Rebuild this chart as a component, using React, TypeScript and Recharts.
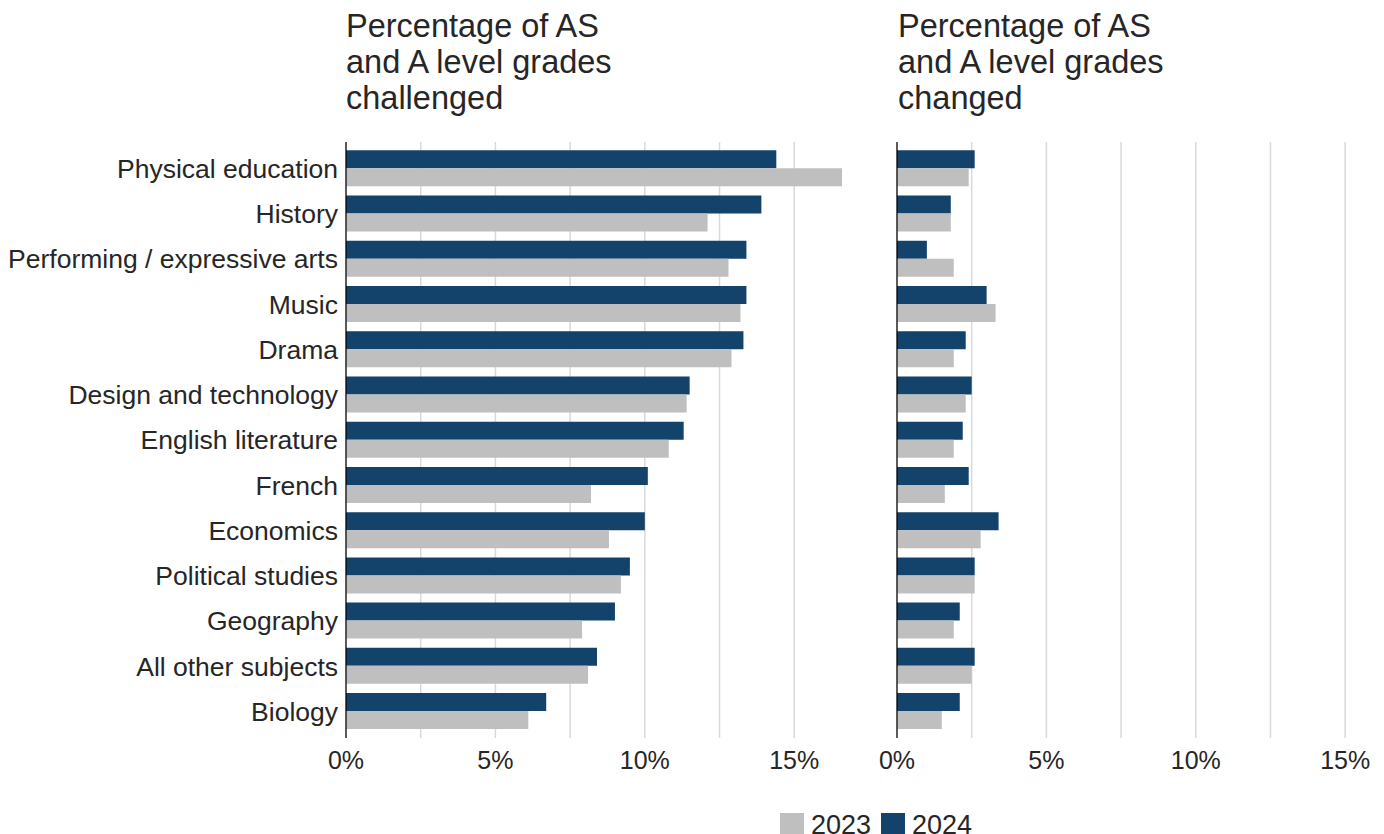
import { BarChart, Bar, XAxis, YAxis, CartesianGrid } from 'recharts'

const BLUE = '#13426b'
const GRAY = '#bfbfbf'
const TEXT = '#262626'
const FONT = '"Liberation Sans", Arial, sans-serif'

const subjects = [
  'Physical education',
  'History',
  'Performing / expressive arts',
  'Music',
  'Drama',
  'Design and technology',
  'English literature',
  'French',
  'Economics',
  'Political studies',
  'Geography',
  'All other subjects',
  'Biology',
]

// % of AS and A level grades challenged
const challenged2024 = [14.4, 13.9, 13.4, 13.4, 13.3, 11.5, 11.3, 10.1, 10.0, 9.5, 9.0, 8.4, 6.7]
const challenged2023 = [16.6, 12.1, 12.8, 13.2, 12.9, 11.4, 10.8, 8.2, 8.8, 9.2, 7.9, 8.1, 6.1]

// % of AS and A level grades changed
const changed2024 = [2.6, 1.8, 1.0, 3.0, 2.3, 2.5, 2.2, 2.4, 3.4, 2.6, 2.1, 2.6, 2.1]
const changed2023 = [2.4, 1.8, 1.9, 3.3, 1.9, 2.3, 1.9, 1.6, 2.8, 2.6, 1.9, 2.5, 1.5]

const xTicks = [0, 2.5, 5, 7.5, 10, 12.5, 15]
const years = ['2023', '2024']

const leftRows = subjects.map((s, i) => ({ subject: s, y2024: challenged2024[i], y2023: challenged2023[i] }))
const rightRows = subjects.map((s, i) => ({ subject: s, y2024: changed2024[i], y2023: changed2023[i] }))

const fmt = (v: number) => (v % 5 === 0 ? `${v}%` : '')

// grid only at the listed ticks (no line at the plot's right edge)
const gridAtTicks = (props: any) => {
  const s = props?.xAxis?.scale
  if (!s) return []
  return xTicks.map((t) => (typeof s === 'function' ? s(t) : s.map(t)))
}

function Panel({ rows, width, yWidth, max, labels }: { rows: any[]; width: number; yWidth: number; max: number; labels: boolean }) {
  return (
    <BarChart
      width={width}
      height={800}
      data={rows}
      layout="vertical"
      margin={{ top: 142, right: labels ? 6 : 0, bottom: 0, left: 0 }}
      barCategoryGap={4.3}
      barGap={0}
    >
      <CartesianGrid horizontal={false} stroke="#d9d9d9" strokeWidth={1.5} verticalCoordinatesGenerator={gridAtTicks} />
      <XAxis
        type="number"
        domain={[0, max]}
        ticks={xTicks}
        tickFormatter={fmt}
        allowDataOverflow
        axisLine={false}
        tickLine={false}
        tickSize={6}
        tickMargin={7}
        height={62}
        tick={{ fontSize: 25, fill: TEXT }}
        interval={0}
      />
      <YAxis
        type="category"
        dataKey="subject"
        width={yWidth}
        axisLine={{ stroke: '#000', strokeWidth: 1.2 }}
        tickLine={false}
        tickSize={6}
        tickMargin={2}
        padding={{ top: 4, bottom: 4 }}
        tick={labels ? { fontSize: 26.5, fill: TEXT } : false}
        interval={0}
      />
      <Bar dataKey="y2024" fill={BLUE} isAnimationActive={false} />
      <Bar dataKey="y2023" fill={GRAY} isAnimationActive={false} />
    </BarChart>
  )
}

export default function App() {
  return (
    <div style={{ position: 'absolute', left: 0, top: 0, width: 1384, height: 834, overflow: 'hidden', background: '#fff', fontFamily: FONT }}>
      <div style={{ position: 'absolute', left: 0, top: 0 }}>
        <Panel rows={leftRows} width={860} yWidth={346} max={17} labels />
      </div>
      <div style={{ position: 'absolute', left: 857, top: 0 }}>
        <Panel rows={rightRows} width={527} yWidth={40} max={16.3} labels={false} />
      </div>
      <svg width={1384} height={834} style={{ position: 'absolute', left: 0, top: 0, pointerEvents: 'none' }}>
        <g fontSize={32.5} fill={TEXT} fontFamily={FONT}>
          <text x={346} y={37}>Percentage of AS</text>
          <text x={346} y={73}>and A level grades</text>
          <text x={346} y={109}>challenged</text>
          <text x={898} y={37}>Percentage of AS</text>
          <text x={898} y={73}>and A level grades</text>
          <text x={898} y={109}>changed</text>
        </g>
        <g fontSize={27} fill={TEXT} fontFamily={FONT}>
          <rect x={780} y={813} width={24} height={24} fill={GRAY} />
          <text x={811} y={834}>{years[0]}</text>
          <rect x={881} y={813} width={24} height={24} fill={BLUE} />
          <text x={912} y={834}>{years[1]}</text>
        </g>
      </svg>
    </div>
  )
}
